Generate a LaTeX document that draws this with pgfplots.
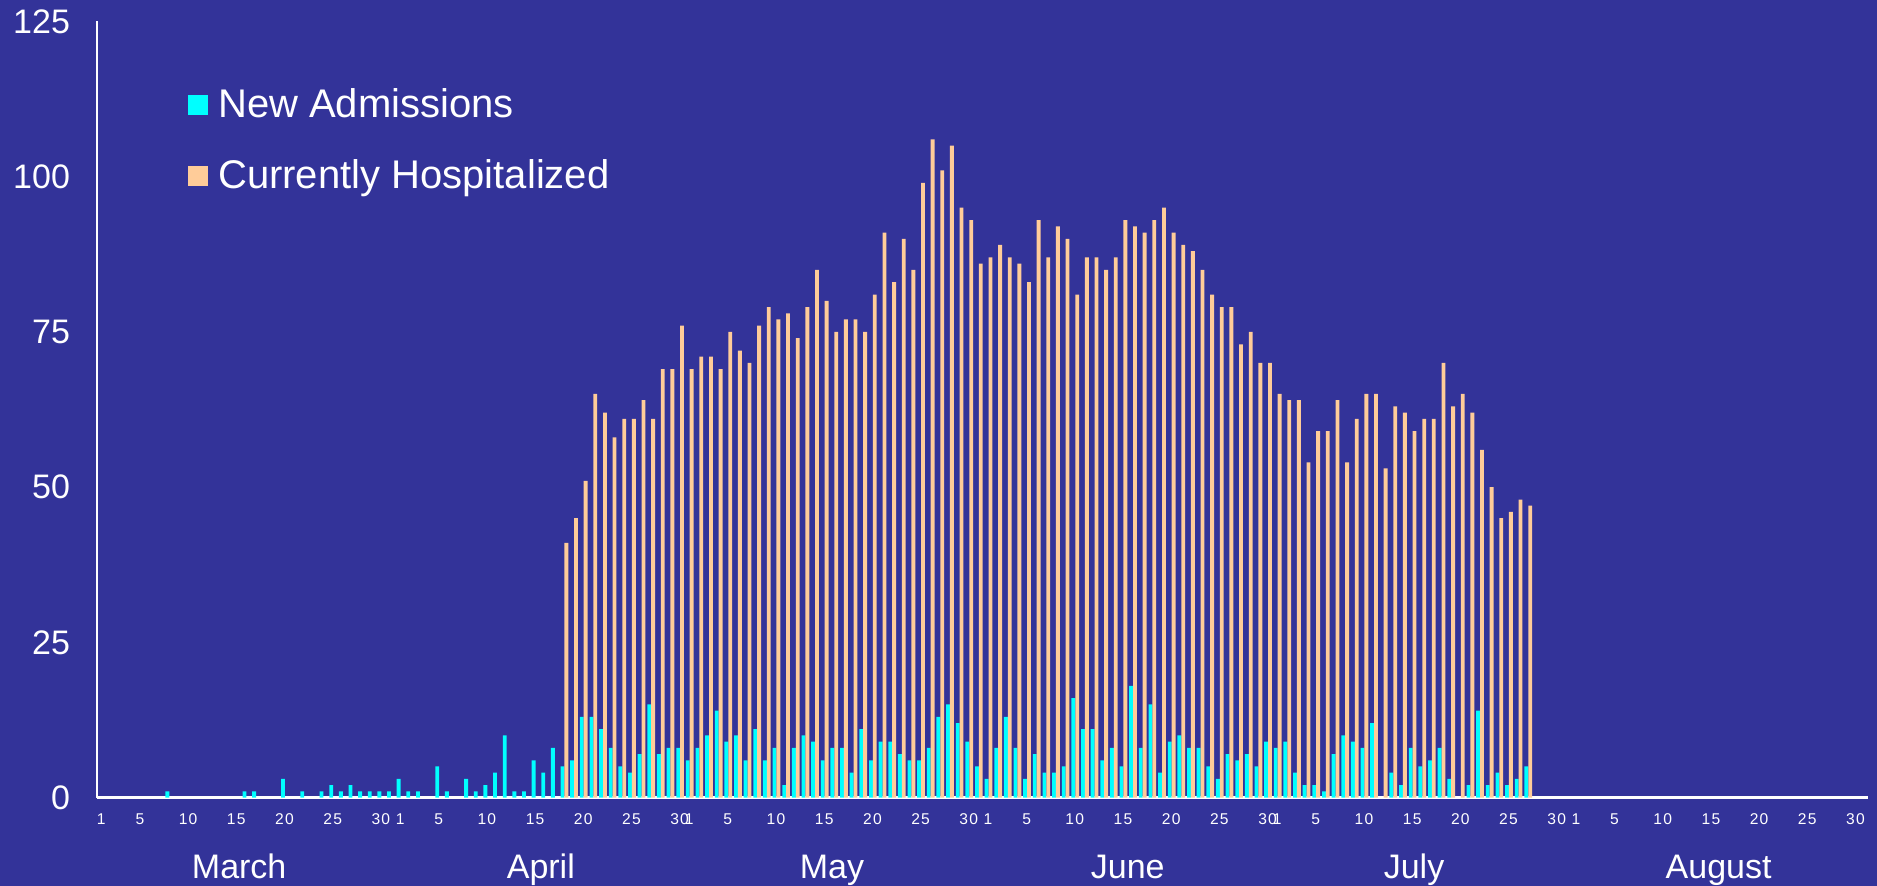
\documentclass[border=0pt]{standalone}
\usepackage{fontspec}
\setmainfont{Liberation Sans}
\usepackage{pgfplots}
\pgfplotsset{compat=1.18}
\definecolor{bgblue}{RGB}{51,51,153}
\definecolor{newadm}{RGB}{0,255,255}
\definecolor{curhosp}{RGB}{255,204,153}
\begin{document}
\begin{tikzpicture}
\path[fill=bgblue,use as bounding box] (-48.5bp,-44.15bp) rectangle (890bp,398.75bp);
\begin{axis}[
  at={(0,0)}, anchor=south west, scale only axis,
  width=885.5bp, height=388bp,
  xmin=-0.45, xmax=183.3, ymin=0, ymax=125,
  axis lines=left,
  axis line style={white, line width=1.3bp, -},
  ytick={0,25,50,75,100,125},
  xtick={0,4,9,14,19,24,29,31,35,40,45,50,55,60,61,65,70,75,80,85,90,92,96,101,106,111,116,121,122,126,131,136,141,146,151,153,157,162,167,172,177,182},
  xticklabels={1,5,10,15,20,25,30,1,5,10,15,20,25,30,1,5,10,15,20,25,30,1,5,10,15,20,25,30,1,5,10,15,20,25,30,1,5,10,15,20,25,30},
  major tick length=0pt,
  tick style={draw=none},
  /pgf/number format/assume math mode=true,
  yticklabel style={font=\fontsize{17bp}{20bp}\selectfont, text=white, xshift=-10bp},
  xticklabel style={font=\fontsize{7.8bp}{9bp}\selectfont\addfontfeatures{LetterSpace=8}, text=white, yshift=-4.5bp},
  clip=false,
  bar width=0.4,
  legend style={at={(0.0513,0.919)}, anchor=north west, draw=none, fill=none, text=white,
    font=\fontsize{20bp}{24bp}\selectfont, row sep=15.5bp, inner sep=0pt},
  legend cell align=left,
]
\addplot[ybar, bar shift=-0.15, fill=newadm, draw=none,
  legend image code/.code={\fill[newadm] (0bp,-5bp) rectangle (10bp,5bp); \path (13bp,0bp);}] coordinates {
(7,1) (15,1) (16,1) (19,3) (21,1) (23,1) (24,2) (25,1) (26,2) (27,1) (28,1) (29,1) (30,1)
(31,3) (32,1) (33,1) (35,5) (36,1) (38,3) (39,1) (40,2) (41,4) (42,10) (43,1) (44,1)
(45,6) (46,4) (47,8) (48,5) (49,6) (50,13) (51,13) (52,11) (53,8) (54,5) (55,4) (56,7)
(57,15) (58,7) (59,8) (60,8)
(61,6) (62,8) (63,10) (64,14) (65,9) (66,10) (67,6) (68,11) (69,6) (70,8) (71,2) (72,8)
(73,10) (74,9) (75,6) (76,8) (77,8) (78,4) (79,11) (80,6) (81,9) (82,9) (83,7) (84,6)
(85,6) (86,8) (87,13) (88,15) (89,12) (90,9) (91,5)
(92,3) (93,8) (94,13) (95,8) (96,3) (97,7) (98,4) (99,4) (100,5) (101,16) (102,11) (103,11)
(104,6) (105,8) (106,5) (107,18) (108,8) (109,15) (110,4) (111,9) (112,10) (113,8) (114,8)
(115,5) (116,3) (117,7) (118,6) (119,7) (120,5) (121,9)
(122,8) (123,9) (124,4) (125,2) (126,2) (127,1) (128,7) (129,10) (130,9) (131,8) (132,12)
(134,4) (135,2) (136,8) (137,5) (138,6) (139,8) (140,3) (142,2) (143,14) (144,2) (145,4)
(146,2) (147,3) (148,5)
};
\addlegendentry{New Admissions}
\addplot[ybar, bar shift=0.25, fill=curhosp, draw=none,
  legend image code/.code={\fill[curhosp] (0bp,-5bp) rectangle (10bp,5bp); \path (13bp,0bp);}] coordinates {
(48,41) (49,45) (50,51) (51,65) (52,62) (53,58) (54,61) (55,61) (56,64) (57,61) (58,69) (59,69) (60,76)
(61,69) (62,71) (63,71) (64,69) (65,75) (66,72) (67,70) (68,76) (69,79) (70,77) (71,78) (72,74)
(73,79) (74,85) (75,80) (76,75) (77,77) (78,77) (79,75) (80,81) (81,91) (82,83) (83,90) (84,85)
(85,99) (86,106) (87,101) (88,105) (89,95) (90,93) (91,86)
(92,87) (93,89) (94,87) (95,86) (96,83) (97,93) (98,87) (99,92) (100,90) (101,81) (102,87)
(103,87) (104,85) (105,87) (106,93) (107,92) (108,91) (109,93) (110,95) (111,91) (112,89)
(113,88) (114,85) (115,81) (116,79) (117,79) (118,73) (119,75) (120,70) (121,70)
(122,65) (123,64) (124,64) (125,54) (126,59) (127,59) (128,64) (129,54) (130,61) (131,65)
(132,65) (133,53) (134,63) (135,62) (136,59) (137,61) (138,61) (139,70) (140,63) (141,65)
(142,62) (143,56) (144,50) (145,45) (146,46) (147,48) (148,47)
};
\addlegendentry{Currently Hospitalized}
\node[text=white, font=\fontsize{17bp}{20bp}\selectfont, anchor=base, yshift=-40.6bp] at (axis cs:14.3,0) {March};
\node[text=white, font=\fontsize{17bp}{20bp}\selectfont, anchor=base, yshift=-40.6bp] at (axis cs:45.6,0) {April};
\node[text=white, font=\fontsize{17bp}{20bp}\selectfont, anchor=base, yshift=-40.6bp] at (axis cs:75.8,0) {May};
\node[text=white, font=\fontsize{17bp}{20bp}\selectfont, anchor=base, yshift=-40.6bp] at (axis cs:106.5,0) {June};
\node[text=white, font=\fontsize{17bp}{20bp}\selectfont, anchor=base, yshift=-40.6bp] at (axis cs:136.2,0) {July};
\node[text=white, font=\fontsize{17bp}{20bp}\selectfont, anchor=base, yshift=-40.6bp] at (axis cs:167.8,0) {August};
\end{axis}
\end{tikzpicture}
\end{document}
